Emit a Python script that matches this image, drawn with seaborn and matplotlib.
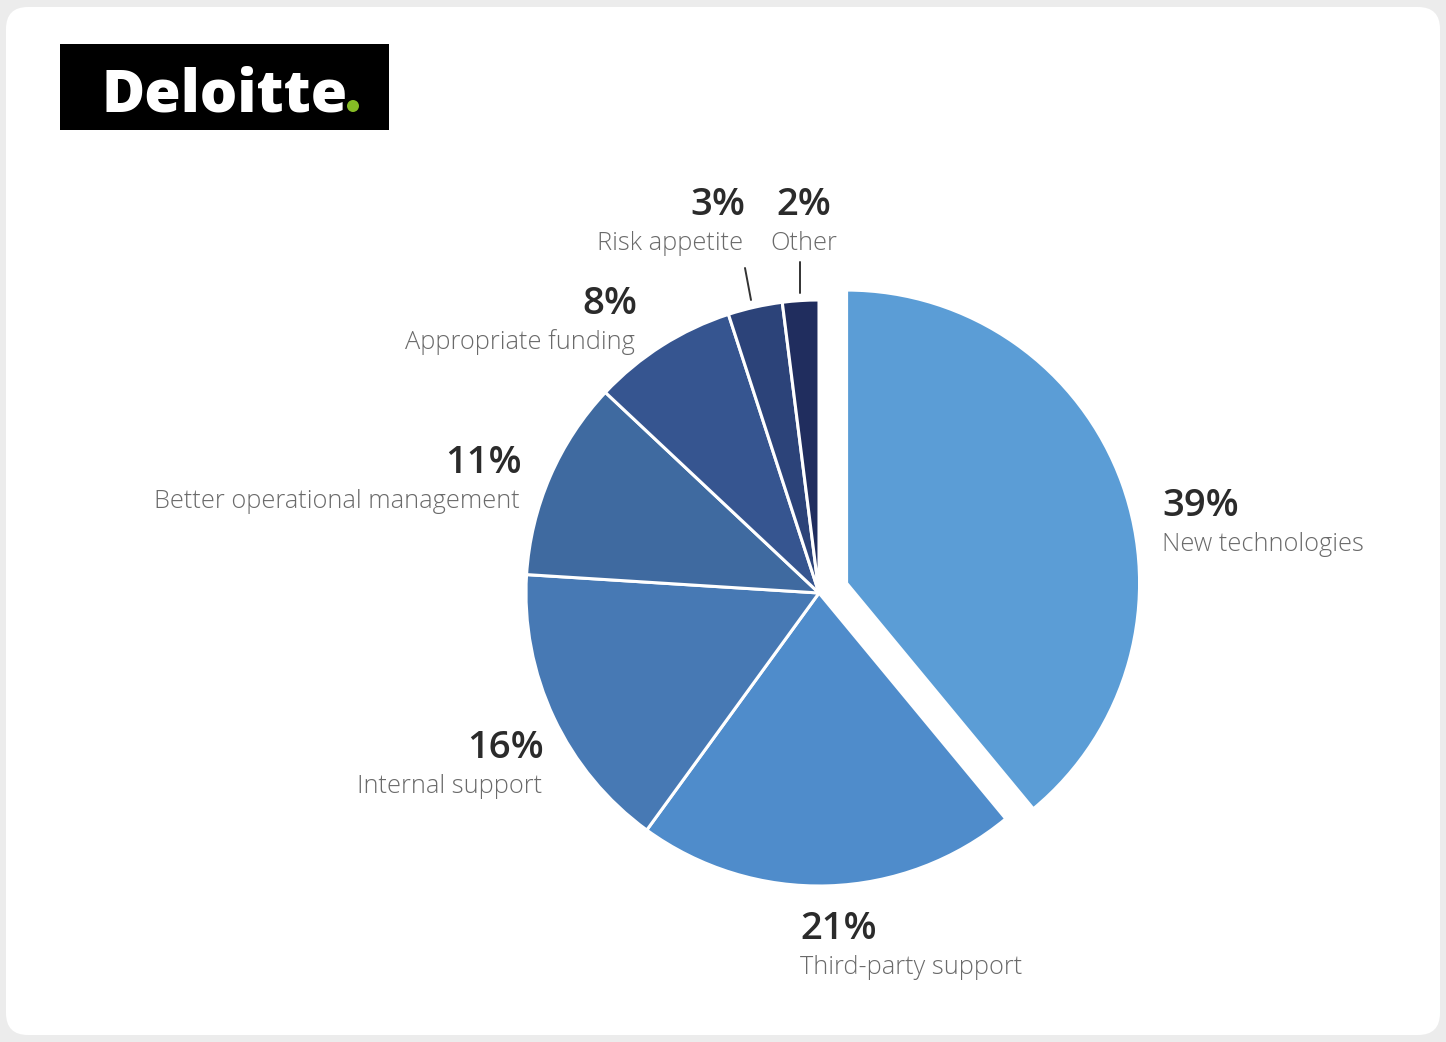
import matplotlib
matplotlib.use("Agg")
import matplotlib.pyplot as plt
from matplotlib.patches import FancyBboxPatch, Rectangle, Circle
import seaborn as sns

# Survey shares, in order clockwise from twelve o'clock
categories = ["New technologies", "Third-party support", "Internal support",
              "Better operational management", "Appropriate funding",
              "Risk appetite", "Other"]
shares = [39, 21, 16, 11, 8, 3, 2]
slice_colors = ["#5b9dd6", "#4f8ccb", "#4779b4", "#3f6aa0",
                "#365590", "#2c4379", "#202d5e"]

sns.set_theme(style="white")
plt.rcParams["font.family"] = ["Open Sans", "DejaVu Sans"]

W, H = 1446, 1042
fig = plt.figure(figsize=(W / 100, H / 100), dpi=100, facecolor="#ececec")
ax = fig.add_axes([0, 0, 1, 1])
ax.set_facecolor("none")


def Y(y):
    # page coordinates measured from the top
    return H - y


# white card
card = FancyBboxPatch((6, Y(1035)), 1434, 1028,
                      boxstyle="round,pad=0,rounding_size=22",
                      facecolor="white", edgecolor="none", zorder=0)
ax.add_patch(card)

# brand mark
ax.add_patch(Rectangle((60, Y(130)), 329, 86, facecolor="black",
                       edgecolor="none", zorder=1))
ax.text(102, Y(112), "Deloitte", color="white", fontsize=42.5,
        fontweight="heavy", ha="left", va="baseline", zorder=2)
ax.add_patch(Circle((353, Y(106)), 6, facecolor="#86bc25",
                    edgecolor="none", zorder=2))

# pie; explode is given in data units, so scale it by the radius
cx, cy, r = 819, Y(593), 293
explode = [0.1 * r] + [0] * (len(shares) - 1)
wedges, _ = ax.pie(shares, colors=sns.color_palette(slice_colors),
                   startangle=90, counterclock=False, explode=explode,
                   center=(cx, cy), radius=r, frame=True,
                   wedgeprops=dict(edgecolor="white", linewidth=2.2))

# label anchors: (x, baseline of percentage, horizontal alignment)
label_pos = [(1162, 516, "left"), (800, 939, "left"), (544, 758, "right"),
             (522, 473, "right"), (637, 314, "right"), (745, 215, "right"),
             (804, 215, "center")]
for name, val, (x, yb, ha) in zip(categories, shares, label_pos):
    ax.text(x, Y(yb), f"{val}%", fontsize=27.5, fontweight="semibold",
            color="#2b2b2b", ha=ha, va="baseline", zorder=3)
    ax.text(x - (2 if ha == "right" else 0), Y(yb + 35), name, fontsize=18.3,
            fontweight="light", color="#6a6a6a", ha=ha, va="baseline",
            zorder=3)

# leader lines for the two thin slices
ax.plot([745, 751], [Y(268), Y(300)], color="#333333", lw=1.4, zorder=3)
ax.plot([800, 800], [Y(262), Y(293)], color="#333333", lw=1.4, zorder=3)

ax.set_xlim(0, W)
ax.set_ylim(0, H)
ax.set_aspect("equal", adjustable="box")
ax.axis("off")

fig.savefig("out.png", dpi=100, facecolor=fig.get_facecolor())
